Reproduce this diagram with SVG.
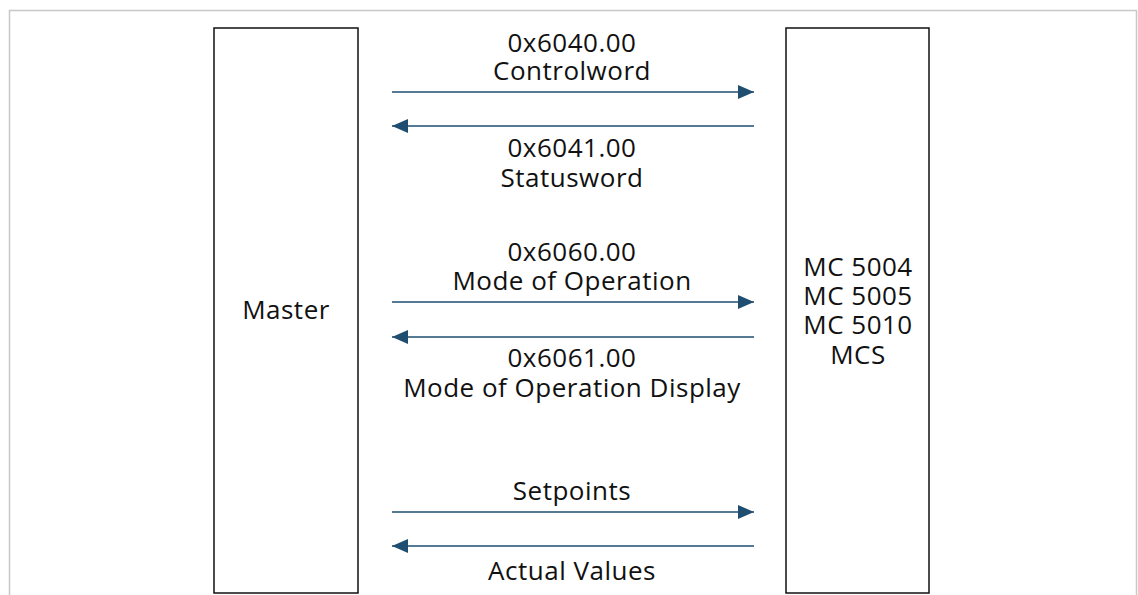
<svg xmlns="http://www.w3.org/2000/svg" width="1138" height="595" viewBox="0 0 1138 595">
<style>
.t{font-family:"Open Sans","Liberation Sans",sans-serif;font-size:26px;letter-spacing:0.5px;fill:#111;text-anchor:middle}
.box{fill:#fff;stroke:#111;stroke-width:1.5}
.c{stroke:#1f4e70;stroke-width:1.5;fill:none}
</style>
<defs>
<marker id="ah" viewBox="0 0 16 14" refX="16" refY="7" markerWidth="16" markerHeight="14" markerUnits="userSpaceOnUse" orient="auto">
<path d="M0,0 L16,7 L0,14 Z" fill="#1f4e70"/>
</marker>
</defs>
<rect width="1138" height="595" fill="#fff"/>
<path d="M9.5,595 V10.5 H1136.5 V595" fill="none" stroke="#c8c8c8" stroke-width="1.5"/>
<g id="master">
<rect class="box" x="214" y="28" width="144" height="565"/>
<text class="t" x="286" y="319">Master</text>
</g>
<g id="mc">
<rect class="box" x="786" y="28" width="143" height="565"/>
<text class="t" x="858" y="276">MC 5004</text>
<text class="t" x="858" y="305">MC 5005</text>
<text class="t" x="858" y="334">MC 5010</text>
<text class="t" x="858" y="364">MCS</text>
</g>
<g id="connectors">
<line class="c" x1="392" y1="92" x2="754" y2="92" marker-end="url(#ah)"/>
<line class="c" x1="754" y1="126" x2="392" y2="126" marker-end="url(#ah)"/>
<line class="c" x1="392" y1="302" x2="754" y2="302" marker-end="url(#ah)"/>
<line class="c" x1="754" y1="337" x2="392" y2="337" marker-end="url(#ah)"/>
<line class="c" x1="392" y1="512" x2="754" y2="512" marker-end="url(#ah)"/>
<line class="c" x1="754" y1="546" x2="392" y2="546" marker-end="url(#ah)"/>
</g>
<g id="labels">
<text class="t" x="572" y="52">0x6040.00</text>
<text class="t" x="572" y="80">Controlword</text>
<text class="t" x="572" y="157">0x6041.00</text>
<text class="t" x="572" y="187">Statusword</text>
<text class="t" x="572" y="261">0x6060.00</text>
<text class="t" x="572" y="290">Mode of Operation</text>
<text class="t" x="572" y="367">0x6061.00</text>
<text class="t" x="572" y="397">Mode of Operation Display</text>
<text class="t" x="572" y="500">Setpoints</text>
<text class="t" x="572" y="580">Actual Values</text>
</g>
</svg>
